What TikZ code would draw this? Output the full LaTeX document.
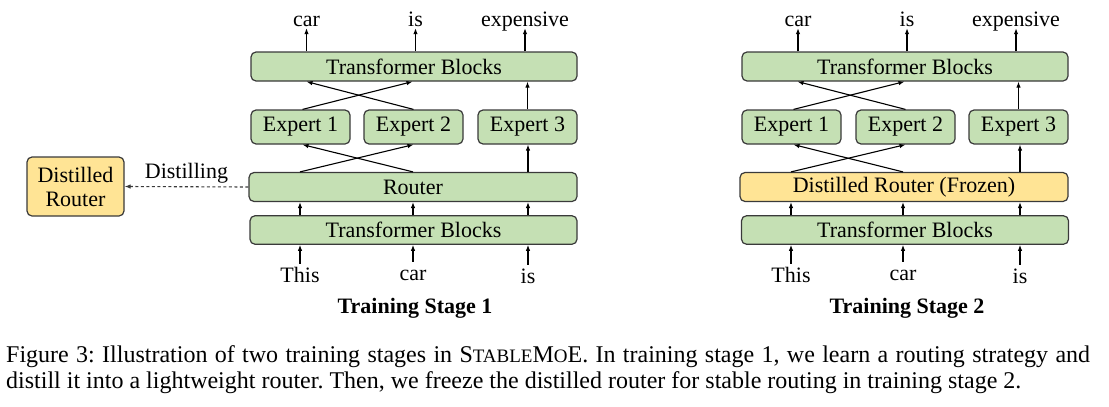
\documentclass[tikz,border=0pt]{standalone}
\usepackage{fontspec}
\setmainfont{Liberation Serif}
\usetikzlibrary{arrows.meta}

\definecolor{boxgreen}{HTML}{C5E0B4}
\definecolor{boxyellow}{HTML}{FFE495}
\definecolor{boxline}{HTML}{3A3A3A}

\newcommand\fakesc[1]{{\fontsize{19}{20}\selectfont #1}}

\tikzset{
  block/.style={draw=boxline, line width=1.2pt, rounded corners=5pt,
                fill=boxgreen, inner sep=0pt, font=\fontsize{22}{25}\selectfont},
  frozen/.style={block, fill=boxyellow},
  word/.style={inner sep=2pt, font=\fontsize{22}{25}\selectfont},
  inword/.style={word, anchor=base, text height=16pt},
  arr/.style={line width=1.1pt, -{Latex[length=6pt,width=4.5pt]}},
}

\begin{document}
\frenchspacing
\begin{tikzpicture}[x=1pt,y=-1pt]
    \useasboundingbox (0,0) rectangle (1109,407);

    % training stage 1
    \node[block, minimum width=326pt, minimum height=29pt] at (414,66.5) (tbtopa) {Transformer Blocks};
    \node[block, minimum width=99pt, minimum height=34pt] at (300.5,127) (e1a) {Expert 1};
    \node[block, minimum width=99pt, minimum height=34pt] at (413.5,127) (e2a) {Expert 2};
    \node[block, minimum width=99pt, minimum height=34pt] at (527.5,127) (e3a) {Expert 3};
    \node[block, minimum width=328pt, minimum height=29pt] at (413,187) (routera) {Router};
    \node[block, minimum width=327pt, minimum height=28.5pt] at (413.5,230) (tbbota) {Transformer Blocks};
    \node[word, anchor=base, text depth=0pt] at (306.5,26) (o1a) {car};
    \node[word, anchor=base, text depth=0pt] at (415.5,26) (o2a) {is};
    \node[word, anchor=base, text depth=0pt] at (525,26) (o3a) {expensive};
    \node[inword] at (300,282) (i1a) {This};
    \node[inword] at (413,280) (i2a) {car};
    \node[inword] at (528,283) (i3a) {is};
    \node[word, anchor=base, font=\fontsize{22}{25}\selectfont\bfseries] at (415,313) (stagea) {Training Stage 1};
    \node[frozen, minimum width=97pt, minimum height=59pt, align=center] at (75.5,186.5) (distil) {Distilled\\[-1pt]Router};

    \draw[arr] (tbtopa.north -| o1a) -- (o1a.south);
    \draw[arr] (tbtopa.north -| o2a) -- (o2a.south);
    \draw[arr] (tbtopa.north -| o3a) -- (o3a.south);
    \draw[arr] ([xshift=2pt]e1a.north) -- ([xshift=-1pt]tbtopa.south -| e2a);
    \draw[arr] (e2a.north) -- ([xshift=6pt]tbtopa.south -| e1a);
    \draw[arr] (e3a.north) -- (tbtopa.south -| e3a);
    \draw[arr] (routera.north -| i1a) -- (e2a.south);
    \draw[arr] (routera.north -| i2a) -- ([xshift=2pt]e1a.south);
    \draw[arr] (routera.north -| i3a) -- (e3a.south -| i3a);
    \draw[arr] (tbbota.north -| i1a) -- (routera.south -| i1a);
    \draw[arr] (tbbota.north -| i2a) -- (routera.south -| i2a);
    \draw[arr] (tbbota.north -| i3a) -- (routera.south -| i3a);
    \draw[arr] (i1a) -- (tbbota.south -| i1a);
    \draw[arr] (i2a) -- (tbbota.south -| i2a);
    \draw[arr] (i3a) -- (tbbota.south -| i3a);
    \draw[arr, draw=boxline, dashed, dash pattern=on 3pt off 2.5pt] (routera.west) -- (distil.east)
        node[midway, above, word, yshift=1pt] {Distilling};

    % training stage 2
    \node[block, minimum width=326pt, minimum height=29pt] at (905,66.5) (tbtopb) {Transformer Blocks};
    \node[block, minimum width=99pt, minimum height=34pt] at (791.5,127) (e1b) {Expert 1};
    \node[block, minimum width=99pt, minimum height=34pt] at (905.5,127) (e2b) {Expert 2};
    \node[block, minimum width=99pt, minimum height=34pt] at (1018.5,127) (e3b) {Expert 3};
    \node[frozen, minimum width=328pt, minimum height=29pt] at (904,187) (routerb) {Distilled Router (Frozen)};
    \node[block, minimum width=327pt, minimum height=28.5pt] at (905,230) (tbbotb) {Transformer Blocks};
    \node[word, anchor=base, text depth=0pt] at (798,26) (o1b) {car};
    \node[word, anchor=base, text depth=0pt] at (907,26) (o2b) {is};
    \node[word, anchor=base, text depth=0pt] at (1016,26) (o3b) {expensive};
    \node[inword] at (791,282) (i1b) {This};
    \node[inword] at (903,280) (i2b) {car};
    \node[inword] at (1020,283) (i3b) {is};
    \node[word, anchor=base, font=\fontsize{22}{25}\selectfont\bfseries] at (907,313) (stageb) {Training Stage 2};

    \draw[arr] (tbtopb.north -| o1b) -- (o1b.south);
    \draw[arr] (tbtopb.north -| o2b) -- (o2b.south);
    \draw[arr] (tbtopb.north -| o3b) -- (o3b.south);
    \draw[arr] ([xshift=2pt]e1b.north) -- ([xshift=-1pt]tbtopb.south -| e2b);
    \draw[arr] (e2b.north) -- ([xshift=6pt]tbtopb.south -| e1b);
    \draw[arr] (e3b.north) -- (tbtopb.south -| e3b);
    \draw[arr] (routerb.north -| i1b) -- (e2b.south);
    \draw[arr] (routerb.north -| i2b) -- ([xshift=2pt]e1b.south);
    \draw[arr] (routerb.north -| i3b) -- (e3b.south -| i3b);
    \draw[arr] (tbbotb.north -| i1b) -- (routerb.south -| i1b);
    \draw[arr] (tbbotb.north -| i2b) -- (routerb.south -| i2b);
    \draw[arr] (tbbotb.north -| i3b) -- (routerb.south -| i3b);
    \draw[arr] (i1b) -- (tbbotb.south -| i1b);
    \draw[arr] (i2b) -- (tbbotb.south -| i2b);
    \draw[arr] (i3b) -- (tbbotb.south -| i3b);

    % caption
    \node[anchor=base west, inner sep=0pt, font=\fontsize{24}{27}\selectfont] at (6,362) (capa)
        {\makebox[1084pt][s]{Figure 3: Illustration of two training stages in S\fakesc{TABLE}M\fakesc{O}E. In training stage 1, we learn a routing strategy and}};
    \node[anchor=base west, inner sep=0pt, font=\fontsize{24}{27}\selectfont] at (6,388) (capb)
        {distill it into a lightweight router. Then, we freeze the distilled router for stable routing in training stage 2.};
\end{tikzpicture}
\end{document}
